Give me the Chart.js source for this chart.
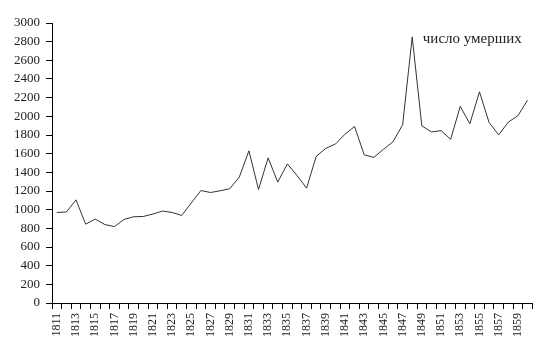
<!DOCTYPE html>
<html>
<head>
<meta charset="utf-8">
<script src="https://cdn.jsdelivr.net/npm/chart.js@4"></script>
<style>
  html, body { margin: 0; padding: 0; background: #fff; }
  #wrap { width: 546px; height: 353px; }
</style>
</head>
<body>
<div id="wrap"><canvas id="myChart"></canvas></div>
<script>
  // годы и число умерших
  var years = [];
  for (var y = 1811; y <= 1860; y++) years.push(String(y));
  var deaths = [970, 975, 1105, 845, 899, 841, 819, 895, 924, 927,
                953, 985, 970, 938, 1072, 1205, 1184, 1202, 1224, 1349,
                1631, 1216, 1555, 1295, 1490, 1368, 1230, 1570, 1657, 1703,
                1808, 1891, 1588, 1560, 1646, 1728, 1909, 2850, 1898, 1833,
                1847, 1754, 2107, 1920, 2263, 1934, 1801, 1938, 2006, 2172];
  var seriesLabel = 'число умерших';
  var yTicks = [0, 200, 400, 600, 800, 1000, 1200, 1400, 1600, 1800, 2000, 2200, 2400, 2600, 2800, 3000];

  var serif = "'Liberation Serif', 'DejaVu Serif', serif";

  // подпись серии рядом с пиком
  var seriesText = {
    id: 'seriesText',
    afterDatasetsDraw: function(chart) {
      var c = chart.ctx;
      var xs = chart.scales.x, ys = chart.scales.y;
      c.save();
      c.font = '15px ' + serif;
      c.fillStyle = '#222';
      c.textAlign = 'left';
      c.textBaseline = 'middle';
      c.fillText(chart.data.datasets[0].label, xs.getPixelForValue(38) + 1, ys.getPixelForValue(2830));
      c.restore();
    }
  };

  const ctx = document.getElementById('myChart');
  var chart = new Chart(ctx, {
    type: 'line',
    data: {
      labels: years,
      datasets: [{
        label: seriesLabel,
        data: deaths,
        borderColor: '#333',
        borderWidth: 1,
        pointRadius: 0,
        tension: 0
      }]
    },
    options: {
      responsive: true,
      maintainAspectRatio: false,
      animation: false,
      layout: { padding: { top: 23, right: 11, bottom: 12, left: 8 } },
      plugins: {
        legend: { display: false },
        tooltip: { enabled: false }
      },
      scales: {
        x: {
          offset: true,
          grid: { offset: true, drawOnChartArea: false, tickLength: 6, color: '#000' },
          border: { color: '#000', width: 1 },
          ticks: {
            autoSkip: false,
            maxRotation: 90,
            minRotation: 90,
            padding: 4,
            color: '#222',
            font: { family: serif, size: 12 },
            callback: function(v, i) { return i % 2 === 0 ? years[i] : ''; }
          }
        },
        y: {
          min: 0,
          max: 3000,
          afterBuildTicks: function(axis) {
            axis.ticks = yTicks.map(function(v) { return { value: v }; });
          },
          grid: { drawOnChartArea: false, tickLength: 6, color: '#000' },
          border: { color: '#000', width: 1 },
          ticks: {
            padding: 6,
            color: '#222',
            font: { family: serif, size: 13 },
            callback: function(v) { return String(v); }
          }
        }
      }
    },
    plugins: [seriesText]
  });
</script>
</body>
</html>
